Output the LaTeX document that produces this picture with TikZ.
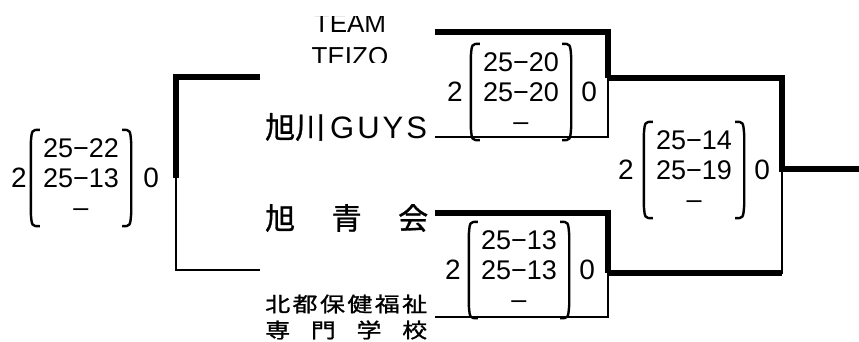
\documentclass[tikz,border=0pt]{standalone}
\usepackage{fontspec}
\setmainfont{Liberation Sans}
\newfontfamily\jpfont{Noto Sans CJK JP}[FakeBold=1]
\usepackage{graphicx}
\usetikzlibrary{positioning}

% parentheses round a score column
\newcommand{\kakko}[1]{%
  \draw[kakkosen] ([xshift=9pt]#1.north west) .. controls ([xshift=1pt]#1.north west) .. ([yshift=-13pt]#1.north west)
    -- ([yshift=13pt]#1.south west) .. controls ([xshift=1pt]#1.south west) .. ([xshift=9pt]#1.south west);
  \draw[kakkosen] ([xshift=-9pt]#1.north east) .. controls ([xshift=-1pt]#1.north east) .. ([yshift=-13pt]#1.north east)
    -- ([yshift=13pt]#1.south east) .. controls ([xshift=-1pt]#1.south east) .. ([xshift=-9pt]#1.south east);
}

\begin{document}
\begin{tikzpicture}[
  x=1pt, y=1pt,
  futoi/.style={line width=5.5pt},
  hosoi/.style={line width=2.5pt},
  tokuten/.style={minimum width=100pt, minimum height=96pt, inner sep=0pt,
    align=center, font=\fontsize{27}{29.5}\selectfont},
  kazu/.style={inner sep=0pt, font=\fontsize{28}{30}\selectfont},
  kakkosen/.style={line width=2.4pt},
  chimei/.style={inner sep=0pt, anchor=west}
]
\useasboundingbox (0,0) rectangle (859,341);

% team names
\begin{scope}
  \clip (250,279) rectangle (420,324);
  \node[inner sep=0pt, align=center, font=\fontsize{26}{33}\selectfont] (n1) at (350,301) {TEAM\\TEIZO};
\end{scope}
\node[chimei] (n2) at (265,214) {{\jpfont\fontsize{30}{30}\selectfont 旭川}\fontsize{31}{31}\selectfont\kern5pt G\kern3pt U\kern3pt Y\kern3pt S};
\node[chimei, font=\jpfont\fontsize{30}{30}\selectfont] (n3) at (265,123) {\makebox[163pt][s]{旭\hfil 青\hfil 会}};
\node[chimei, align=left, font=\jpfont\fontsize{25}{26}\selectfont] (n4) at (265,24)
  {\scalebox{1}[0.82]{\makebox[162pt][s]{北\hfil 都\hfil 保\hfil 健\hfil 福\hfil 祉}}\\
   \scalebox{1}[0.82]{\makebox[162pt][s]{専\hfil 門\hfil 学\hfil 校}}};

% bracket ends
\coordinate (a1) at (435,309);
\coordinate (a2) at (435,204);
\coordinate (b1) at (435,128);
\coordinate (b2) at (435,24);
\coordinate (m1) at (608,263);
\coordinate (m2) at (608,68);
\coordinate (f) at (782,172);
\coordinate (owari) at (859,172);
\coordinate (c1) at (260,264);
\coordinate (c2) at (260,71);
\coordinate (m3) at (176,163);

% first round
\draw[hosoi] (a2) -| (m1);
\draw[futoi] (a1) -| (m1);
\draw[hosoi] (b2) -| (m2);
\draw[futoi] (b1) -| (m2);
% final
\draw[hosoi] (m2) -| (f);
\draw[futoi] (m2) -- (m2 -| f);
\draw[futoi] (m1) -| (f) -- (owari);
% left bracket
\draw[hosoi] (c2) -| (m3);
\draw[futoi] (c1) -| (m3);

% scores
\node[tokuten] (s1) at (521,249) {25−20\\25−20\\–};
\node[kazu, left=8pt of s1] (s1w) {2};
\node[kazu, right=10pt of s1] (s1l) {0};
\kakko{s1}

\node[tokuten] (s2) at (519,71) {25−13\\25−13\\–};
\node[kazu, left=8pt of s2] (s2w) {2};
\node[kazu, right=10pt of s2] (s2l) {0};
\kakko{s2}

\node[tokuten] (s3) at (694,171) {25−14\\25−19\\–};
\node[kazu, left=10pt of s3] (s3w) {2};
\node[kazu, right=10pt of s3] (s3l) {0};
\kakko{s3}

\node[tokuten] (s4) at (81,163) {25−22\\25−13\\–};
\node[kazu, left=4pt of s4] (s4w) {2};
\node[kazu, right=12pt of s4] (s4l) {0};
\kakko{s4}
\end{tikzpicture}
\end{document}
